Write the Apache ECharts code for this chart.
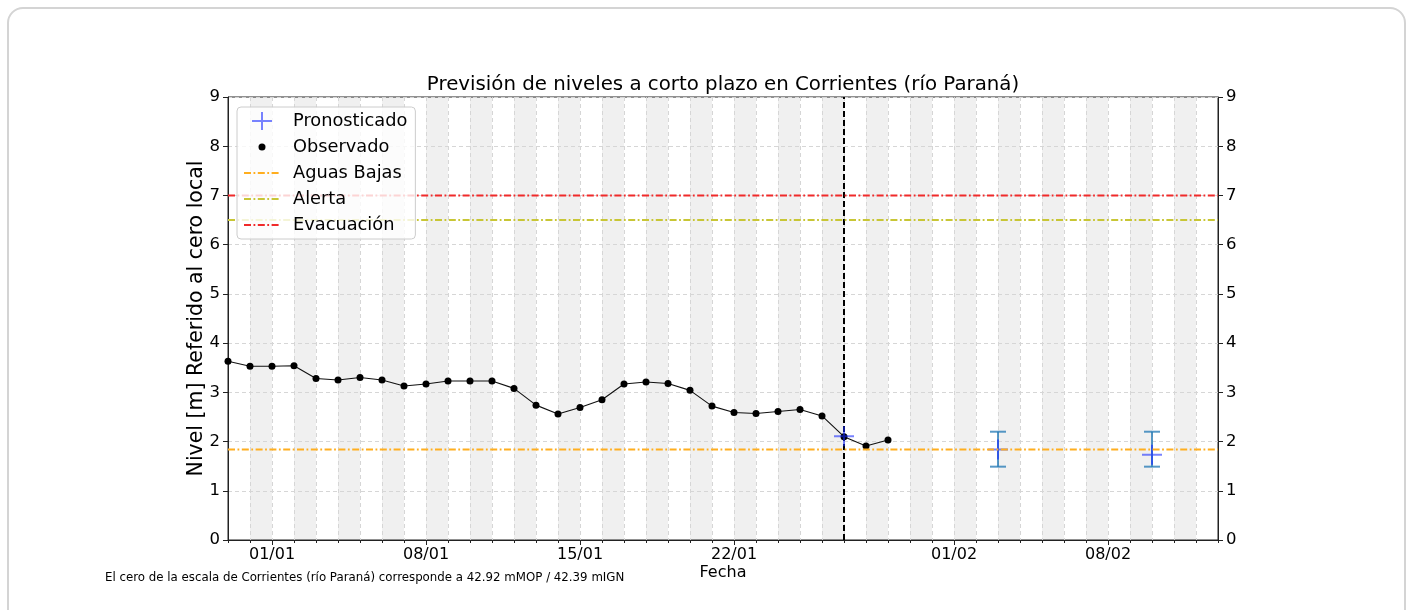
<!DOCTYPE html>
<html>
<head>
<meta charset="utf-8">
<script src="https://cdn.jsdelivr.net/npm/echarts@6/dist/echarts.min.js"></script>
<style>
  html, body { margin: 0; padding: 0; background: #fff; }
  #chart { position: absolute; left: 0; top: 0; width: 1412px; height: 610px; }
  #card { position: absolute; left: 7px; top: 7px; width: 1399px; height: 660px; box-sizing: border-box;
          border: 2px solid #d4d4d4; border-radius: 16px; pointer-events: none; }
</style>
</head>
<body>
<div id="chart"></div>
<div id="card"></div>
<script>
// eje x: un dia por categoria, del 30/12 al 13/02
const firstDay = Date.UTC(2023, 11, 30);
const numDays = 46;
const pad = n => String(n).padStart(2, "0");
const days = [];
for (let i = 0; i < numDays; i++) {
  const d = new Date(firstDay + i * 86400000);
  days.push(pad(d.getUTCDate()) + "/" + pad(d.getUTCMonth() + 1));
}
const majorTicks = ["01/01", "08/01", "15/01", "22/01", "01/02", "08/02"];
const shadedDays = ["31/12", "02/01", "04/01", "06/01", "08/01", "10/01", "12/01", "14/01", "16/01", "18/01",
  "20/01", "22/01", "24/01", "26/01", "28/01", "30/01", "01/02", "03/02", "05/02", "07/02", "09/02", "11/02"];

// observado: desde 30/12 hasta 29/01
const obsValues = [3.63, 3.53, 3.53, 3.54, 3.28, 3.25, 3.30, 3.25, 3.13, 3.17, 3.23, 3.23, 3.23, 3.08, 2.74,
  2.56, 2.69, 2.85, 3.17, 3.21, 3.18, 3.04, 2.72, 2.59, 2.57, 2.61, 2.65, 2.52, 2.10, 1.91, 2.03];

// pronostico
const fcDays = ["27/01", "03/02", "10/02"];
const fcValues = [2.11, 1.84, 1.73];
const errDays = ["03/02", "10/02"];
const errLow = [1.49, 1.49];
const errHigh = [2.20, 2.20];
const nowDay = "27/01";

// niveles de referencia
const aguasBajas = 1.84;
const alerta = 6.5;
const evacuacion = 7.0;

const FONT = "DejaVu Sans";
const dashDot = [7, 2.5, 1.8, 2.5];

// iconos de leyenda (caja 45x20)
function dashIcon() {
  let p = "path://M0,0 M45,20";
  let x = 1, k = 0;
  while (x < 37) {
    const len = Math.min(dashDot[k % 4], 37 - x);
    if (k % 2 === 0) p += " M" + x + ",9h" + len + "v2h-" + len + "z";
    x += dashDot[k % 4];
    k++;
  }
  return p;
}
const plusIcon = "path://M0,0 M45,20 M9,9h20v2h-20z M18,1h2v18h-2z";
const dotIcon = "path://M0,0 M45,20 M15.5,10a3.5,3.5 0 1,0 7,0a3.5,3.5 0 1,0 -7,0z";

const idx = name => days.indexOf(name);
const flatLine = v => [[days[0], v], [days[numDays - 1], v]];

const chart = echarts.init(document.getElementById("chart"));

const option = {
  animation: false,
  textStyle: { fontFamily: FONT },
  grid: { left: 228, top: 97, width: 990, height: 443, show: true, borderColor: "#222", borderWidth: 1 },
  legend: {
    z: 20,
    left: 237, top: 107, orient: "vertical",
    itemWidth: 45, itemHeight: 20, itemGap: 6,
    padding: [4, 8, 4, 6],
    backgroundColor: "rgba(255,255,255,0.8)", borderColor: "#cccccc", borderWidth: 1, borderRadius: 4,
    itemStyle: { borderWidth: 0 },
    textStyle: { fontSize: 17.8, color: "#000", fontFamily: FONT },
    data: [
      { name: "Pronosticado", icon: plusIcon },
      { name: "Observado", icon: dotIcon },
      { name: "Aguas Bajas", icon: dashIcon() },
      { name: "Alerta", icon: dashIcon() },
      { name: "Evacuación", icon: dashIcon() },
    ],
  },
  graphic: [
    {
      type: "text", x: 723, y: 85,
      style: { text: "Previsión de niveles a corto plazo en Corrientes (río Paraná)", font: "19.8px DejaVu Sans",
        fill: "#000", textAlign: "center", textVerticalAlign: "middle" },
    },
    {
      type: "text", x: 105, y: 578,
      style: { text: "El cero de la escala de Corrientes (río Paraná) corresponde a 42.92 mMOP / 42.39 mIGN",
        font: "11.8px DejaVu Sans", fill: "#000", textVerticalAlign: "middle" },
    },
  ],
  xAxis: [
    {
      type: "category", data: days, boundaryGap: false,
      axisLine: { show: true, lineStyle: { color: "#222" } },
      axisTick: { show: true, interval: 0, length: 3, lineStyle: { color: "#222" } },
      axisLabel: { interval: (i, v) => majorTicks.includes(v), fontSize: 16, color: "#000", margin: 7 },
      splitLine: { show: true, interval: 0, lineStyle: { color: "#d6d6d6", type: [4, 3] } },
      name: "Fecha", nameLocation: "middle", nameGap: 25, nameMoveOverlap: false,
      nameTextStyle: { fontSize: 16, color: "#000" },
    },
    {
      type: "category", data: days, boundaryGap: false, position: "bottom",
      axisLine: { show: false },
      axisTick: { show: true, interval: (i, v) => majorTicks.includes(v), length: 5, lineStyle: { color: "#222" } },
      axisLabel: { show: false },
      splitLine: { show: false },
    },
  ],
  yAxis: [
    {
      type: "value", min: 0, max: 9, interval: 1, position: "left",
      axisLine: { show: true, lineStyle: { color: "#222" } },
      axisTick: { show: true, length: 5, lineStyle: { color: "#222" } },
      axisLabel: { fontSize: 16.5, color: "#000", margin: 8 },
      splitLine: { show: true, lineStyle: { color: "#d6d6d6", type: [4, 3] } },
      name: "Nivel [m] Referido al cero local", nameLocation: "middle", nameGap: 21, nameMoveOverlap: false,
      nameTextStyle: { fontSize: 20.5, color: "#000" },
    },
    {
      type: "value", min: 0, max: 9, interval: 1, position: "right",
      axisLine: { show: true, lineStyle: { color: "#222" } },
      axisTick: { show: true, length: 5, lineStyle: { color: "#222" } },
      axisLabel: { fontSize: 16.5, color: "#000", margin: 8 },
      splitLine: { show: false },
    },
  ],
  series: [
    {
      // franjas grises dia por medio
      type: "custom", z: -1, silent: true,
      data: shadedDays.map(d => [idx(d), 0]),
      encode: { x: 0, y: 1 },
      renderItem: (params, api) => {
        const i = api.value(0);
        const p0 = api.coord([i, 9]);
        const p1 = api.coord([i + 1, 0]);
        return { type: "rect", shape: { x: p0[0], y: p0[1], width: p1[0] - p0[0], height: p1[1] - p0[1] },
          style: { fill: "#f0f0f0" } };
      },
    },
    {
      // barras de error del pronostico
      type: "custom", z: 3, silent: true,
      data: errDays.map((d, i) => [idx(d), errLow[i], errHigh[i]]),
      encode: { x: 0, y: [1, 2] },
      renderItem: (params, api) => {
        const x = api.value(0);
        const lo = api.coord([x, api.value(1)]);
        const hi = api.coord([x, api.value(2)]);
        const st = { stroke: "rgba(31,119,180,0.75)", lineWidth: 2 };
        return { type: "group", children: [
          { type: "line", shape: { x1: lo[0], y1: lo[1], x2: hi[0], y2: hi[1] }, style: st },
          { type: "line", shape: { x1: lo[0] - 8, y1: lo[1], x2: lo[0] + 8, y2: lo[1] }, style: st },
          { type: "line", shape: { x1: hi[0] - 8, y1: hi[1], x2: hi[0] + 8, y2: hi[1] }, style: st },
        ] };
      },
    },
    {
      name: "Observado", type: "line", z: 4,
      data: obsValues,
      symbol: "circle", symbolSize: 7, showAllSymbol: true,
      itemStyle: { color: "#000" },
      lineStyle: { color: "#111", width: 1.1 },
    },
    {
      name: "Pronosticado", type: "scatter", z: 5,
      data: fcDays.map((d, i) => [d, fcValues[i]]),
      symbol: "path://M0,9h20v2h-20z M9,0h2v20h-2z", symbolSize: [20, 20],
      itemStyle: { color: "rgba(20,40,255,0.72)" },
      markLine: {
        silent: true, symbol: "none", label: { show: false },
        lineStyle: { color: "#000", width: 2, type: [6, 3] },
        data: [{ xAxis: nowDay }],
      },
    },
    {
      name: "Aguas Bajas", type: "line", z: 6, symbol: "none",
      data: flatLine(aguasBajas),
      itemStyle: { color: "#ffae1f" },
      lineStyle: { color: "#ffae1f", width: 2, type: dashDot },
    },
    {
      name: "Alerta", type: "line", z: 6, symbol: "none",
      data: flatLine(alerta),
      itemStyle: { color: "#c8c635" },
      lineStyle: { color: "#c8c635", width: 2, type: dashDot },
    },
    {
      name: "Evacuación", type: "line", z: 6, symbol: "none",
      data: flatLine(evacuacion),
      itemStyle: { color: "#f02a2a" },
      lineStyle: { color: "#f02a2a", width: 2, type: dashDot },
    },
  ],
};

chart.setOption(option);
</script>
</body>
</html>
